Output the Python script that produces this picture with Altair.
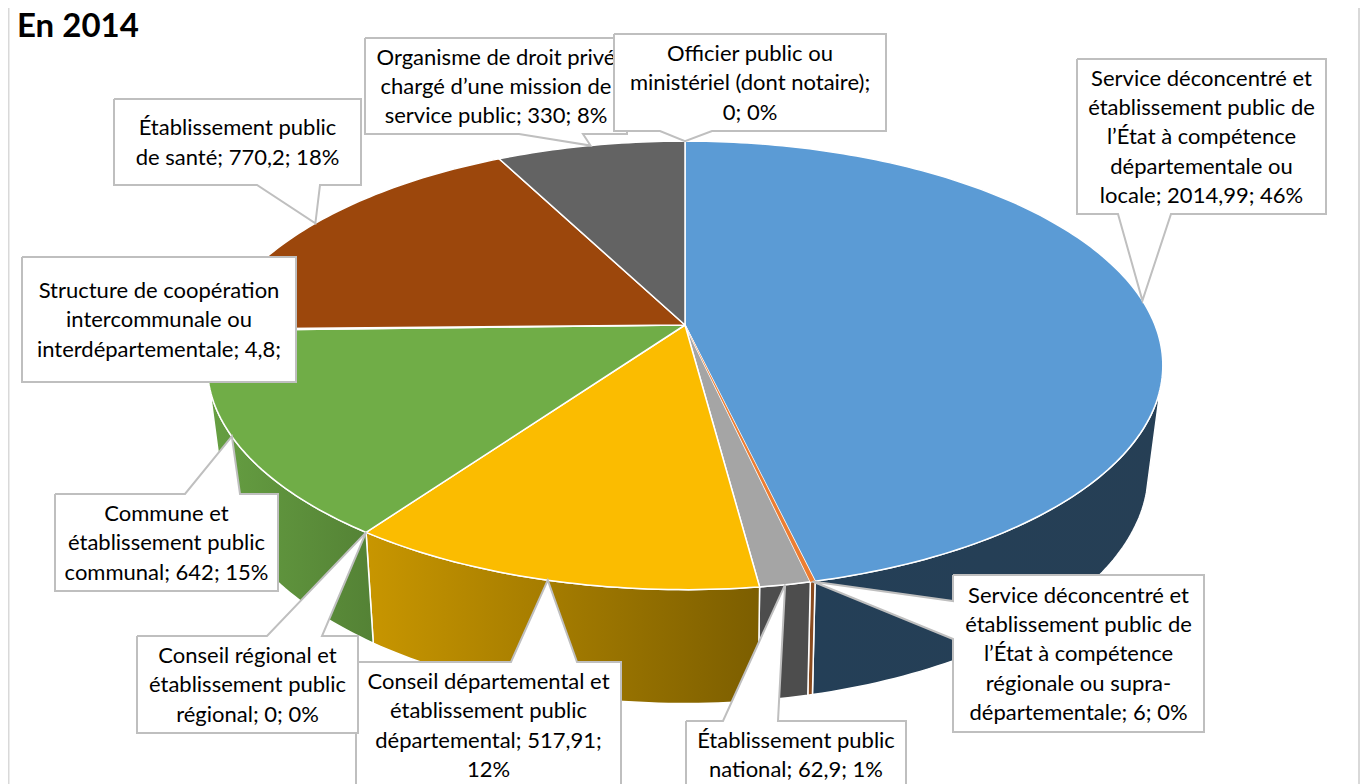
import math
import altair as alt
import pandas as pd

# ---- data ----
series = [
    "Service déconcentré et établissement public de l’État à compétence départementale ou locale",
    "Service déconcentré et établissement public de l’État à compétence régionale ou supra-départementale",
    "Établissement public national",
    "Conseil départemental et établissement public départemental",
    "Conseil régional et établissement public régional",
    "Commune et établissement public communal",
    "Structure de coopération intercommunale ou interdépartementale",
    "Établissement public de santé",
    "Organisme de droit privé chargé d’une mission de service public",
    "Officier public ou ministériel (dont notaire)",
]
values = [2014.99, 6, 62.9, 517.91, 0, 642, 4.8, 770.2, 330, 0]
top_colors = ["#5B9BD5", "#ED7D31", "#A5A5A5", "#FBBC00", "#4472C4", "#70AD47", "#255E91", "#9C470C", "#636363", "#997300"]
wall_left = ["#243F57", "#8A4B1E", "#4D4D4D", "#C89600", "#3A5F9F", "#669F42", "#1B4568", "#6E320A", "#444444", "#705400"]
wall_right = ["#263F55", "#8A4B1E", "#4D4D4D", "#7C5E00", "#3A5F9F", "#548235", "#1B4568", "#6E320A", "#444444", "#705400"]
label_text = [
    "Service déconcentré et\nétablissement public de\nl’État à compétence\ndépartementale ou\nlocale; 2014,99; 46%",
    "Service déconcentré et\nétablissement public de\nl’État à compétence\nrégionale ou supra-\ndépartementale; 6; 0%",
    "Établissement public\nnational; 62,9; 1%",
    "Conseil départemental et\nétablissement public\ndépartemental; 517,91;\n12%",
    "Conseil régional et\nétablissement public\nrégional; 0; 0%",
    "Commune et\nétablissement public\ncommunal; 642; 15%",
    "Structure de coopération\nintercommunale ou\ninterdépartementale; 4,8;",
    "Établissement public\nde santé; 770,2; 18%",
    "Organisme de droit privé\nchargé d’une mission de\nservice public; 330; 8%",
    "Officier public ou\nministériel (dont notaire);\n0; 0%",
]
# label boxes: left, top, right, bottom
label_box = [
    (1077, 59, 1326, 214), (953, 575, 1204, 732), (686, 721, 906, 788), (356, 662, 621, 788),
    (137, 636, 358, 733), (55, 494, 278, 591), (22, 257, 296, 382), (114, 99, 361, 185),
    (365, 38, 627, 134), (614, 34, 886, 131),
]
# side of the box that carries the callout pointer, and where the pointer leaves it
pointer_side = ["bottom", "left", "top", "top", "top", "top", None, "bottom", "bottom", "bottom"]
pointer_base = [(1118, 1171), (601, 639), (723, 778), (511, 577), (267, 322), (185, 240), None, (257, 320), (519, 583), (660, 712)]
title_text = "En 2014"

# ---- perspective of the 3-D pie ----
CX, CY, A, B, P = 685, 325, 470, 217, 0.18
CY2, A2, B2, P2 = 427, 455, 224, 0.19
WALL_START, WALL_END = 106, 254
LINE_H = 29.4

def rim(theta):
    t = math.radians(theta)
    u, v = math.sin(t), math.cos(t)
    return CX + A * u / (1 + P * v), CY - B * v / (1 + P * v)

def rim_low(theta):
    t = math.radians(theta)
    u, v = math.sin(t), math.cos(t)
    return CX + A2 * u / (1 + P2 * v), CY2 - B2 * v / (1 + P2 * v)

def sweep(a, b):
    n = max(1, int(abs(b - a)))
    return [a + (b - a) * k / n for k in range(n + 1)]

total = sum(values)
edges = [0.0]
for val in values:
    edges.append(edges[-1] + val / total * 360)

X = alt.X("x:Q", axis=None, scale=alt.Scale(domain=[8, 1360], nice=False, zero=False))
Y = alt.Y("y:Q", axis=None, scale=alt.Scale(domain=[784, 8], nice=False, zero=False))

def polygon(points, **mark):
    df = pd.DataFrame([{"x": px, "y": py, "i": k} for k, (px, py) in enumerate(points)])
    return alt.Chart(df).mark_line(**mark).encode(x=X, y=Y, order="i:Q")

layers = []

# side walls
for k, val in enumerate(values):
    a, b = max(edges[k], WALL_START), min(edges[k + 1], WALL_END)
    if val == 0 or b <= a:
        continue
    pts = [rim(t) for t in sweep(a, b)] + [rim_low(t) for t in sweep(b, a)]
    pts.append(pts[0])
    grad = alt.Gradient(
        gradient="linear",
        stops=[alt.GradientStop(offset=0, color=wall_left[k]), alt.GradientStop(offset=1, color=wall_right[k])],
        x1=0, x2=1, y1=0, y2=0,
    )
    layers.append(polygon(pts, fill=grad, stroke="white", strokeWidth=1.5))

# top faces (the thin orange sliver goes last so the white edges do not hide it)
draw_order = [k for k in range(len(values)) if values[k] > 0 and k != 1] + [1]
for k in draw_order:
    pts = [(CX, CY)] + [rim(t) for t in sweep(edges[k], edges[k + 1])] + [(CX, CY)]
    if k == 1:
        layers.append(polygon(pts, fill=top_colors[k], stroke=top_colors[k], strokeWidth=0))
    else:
        layers.append(polygon(pts, fill=top_colors[k], stroke="white", strokeWidth=1.5))

# callouts, in series order so that later ones overlap earlier ones
for k, txt in enumerate(label_text):
    l, t, r, b = label_box[k]
    tip = rim((edges[k] + edges[k + 1]) / 2)
    side = pointer_side[k]
    pts = [(l, t)]
    if side == "top":
        pts += [(pointer_base[k][0], t), tip, (pointer_base[k][1], t)]
    pts += [(r, t), (r, b)]
    if side == "bottom":
        pts += [(pointer_base[k][1], b), tip, (pointer_base[k][0], b)]
    pts += [(l, b)]
    if side == "left":
        pts += [(l, pointer_base[k][1]), tip, (l, pointer_base[k][0])]
    pts += [(l, t)]
    layers.append(polygon(pts, fill="white", stroke="#BFBFBF", strokeWidth=2))
    n_lines = txt.count("\n") + 1
    tdf = pd.DataFrame({"x": [(l + r) / 2], "y": [(t + b) / 2 + 1 - (n_lines - 1) * LINE_H / 2], "t": [txt]})
    layers.append(
        alt.Chart(tdf)
        .mark_text(font="Lato", fontSize=22, lineBreak="\n", lineHeight=LINE_H, color="#000000", align="center", baseline="middle")
        .encode(x=X, y=Y, text="t:N")
    )

# frame
frame = pd.DataFrame({"x": [8.5, 1359]})
layers.insert(0, alt.Chart(frame).mark_rule(color="#D9D9D9", strokeWidth=2).encode(x=X))

# title
tdf = pd.DataFrame({"x": [17], "y": [27], "t": [title_text]})
layers.append(
    alt.Chart(tdf)
    .mark_text(font="Lato", fontWeight="bold", fontSize=33, color="#000000", align="left", baseline="middle")
    .encode(x=X, y=Y, text="t:N")
)

chart = (
    alt.layer(*layers)
    .properties(width=1352, height=776, padding=0, autosize=alt.AutoSizeParams(type="none"), background="white")
    .configure_view(stroke=None)
)
chart.save("out.html", embed_options={"renderer": "svg", "actions": False})
